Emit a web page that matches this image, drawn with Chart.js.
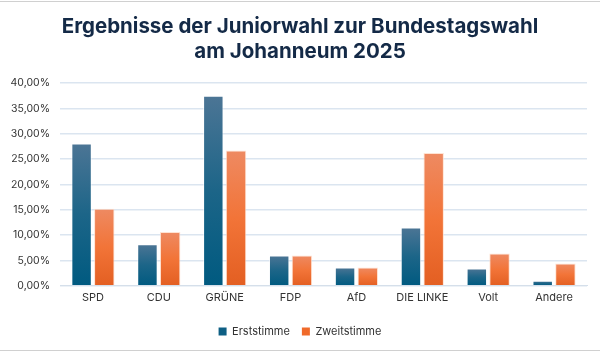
<!DOCTYPE html>
<html><head><meta charset="utf-8">
<script src="https://cdn.jsdelivr.net/npm/chart.js@4"></script>
<style>
html,body{margin:0;padding:0;background:#fff;}
#wrap{position:relative;width:600px;height:353px;}
#wrap:before{content:"";position:absolute;left:0;right:0;top:1px;height:1px;background:#d0d0d0;}
#wrap:after{content:"";position:absolute;left:0;right:0;bottom:2px;height:1px;background:#d0d0d0;}
canvas{display:block;}
</style></head><body>
<div id="wrap"><canvas id="c" width="600" height="353"></canvas></div>
<script>
const categories = ["SPD","CDU","GRÜNE","FDP","AfD","DIE LINKE","Volt","Andere"];
const erststimme = [28.1, 8.2, 37.5, 6.0, 3.6, 11.5, 3.4, 1.0];
const zweitstimme = [15.2, 10.6, 26.7, 6.0, 3.6, 26.2, 6.4, 4.4];
const yTicks = [0,5,10,15,20,25,30,35,40];
const titleLines = ["Ergebnisse der Juniorwahl zur Bundestagswahl","am Johanneum 2025"];

function grad3(c0,c1,c2){
  return function(ctx){
    const chart = ctx.chart;
    if(!chart.chartArea || ctx.type !== 'data') return c2;
    const y = chart.scales.y;
    const y0 = y.getPixelForValue(ctx.raw), y1 = y.getPixelForValue(0);
    if (!isFinite(y0) || y1 - y0 < 1) return c2;
    const g = chart.ctx.createLinearGradient(0, y0, 0, y1);
    g.addColorStop(0, c0); g.addColorStop(0.5, c1); g.addColorStop(1, c2);
    return g;
  };
}
new Chart(document.getElementById('c'), {
  type: 'bar',
  data: {
    labels: categories,
    datasets: [
      {label:'Erststimme', data: erststimme, backgroundColor: grad3('#4c7595','#1c6588','#005a80'), borderColor:'rgba(255,255,255,0.6)', borderWidth:1, borderSkipped:'bottom', barPercentage:0.9, categoryPercentage:0.69},
      {label:'Zweitstimme', data: zweitstimme, backgroundColor: grad3('#ee8a62','#f27438','#e35f22'), borderColor:'rgba(255,220,200,0.8)', borderWidth:1, borderSkipped:'bottom', barPercentage:0.9, categoryPercentage:0.69}
    ]
  },
  options: {
    responsive:false, animation:false,
    layout:{padding:{left:0,right:0,top:6,bottom:6}},
    plugins:{
      title:{display:true, text:titleLines, color:'#142a47', font:{family:'Inter', size:20.5, weight:'bold', lineHeight:1.2}, padding:{top:9,bottom:19}},
      legend:{position:'bottom', labels:{boxWidth:8, boxHeight:8, color:'#333', font:{family:'Inter', size:11}, padding:12,
        generateLabels:(chart)=>[{text:'Erststimme',fillStyle:'#0e5f84',strokeStyle:'#0e5f84',lineWidth:0,datasetIndex:0,fontColor:'#333'},{text:'Zweitstimme',fillStyle:'#f06a2a',strokeStyle:'#f06a2a',lineWidth:0,datasetIndex:1,fontColor:'#333'}]}},
      tooltip:{enabled:false}
    },
    scales:{
      x:{grid:{display:false, drawTicks:false}, border:{color:'#d5dfea'}, afterFit:(s)=>{s.height += 5;}, ticks:{color:'#333', font:{family:'Inter', size:11}, padding:5}},
      y:{min:0, max:40, afterBuildTicks:(s)=>{s.ticks = yTicks.map(v=>({value:v}));}, afterFit:(s)=>{s.width = 60;},
         grid:{color:'#dbe5f0', lineWidth:1.5, drawTicks:false}, border:{display:false},
         ticks:{color:'#333', font:{family:'Inter', size:10.5}, padding:10, callback:(v)=>v.toFixed(2).replace('.',',')+'%'}},
      yR:{position:'right', min:0, max:40, grid:{display:false, drawTicks:false}, border:{display:false}, ticks:{display:false}, afterFit:(s)=>{s.width = 13;}}
    }
  }
});
</script>
</body></html>
